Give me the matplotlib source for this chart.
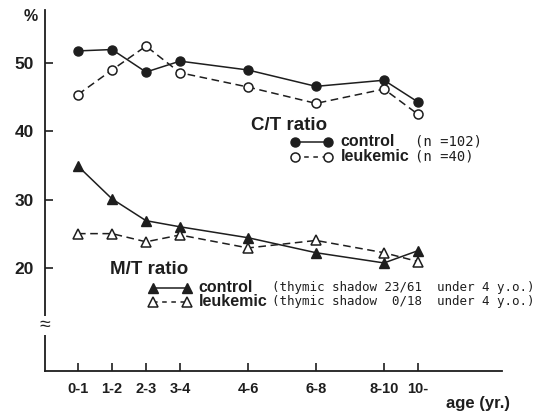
import matplotlib.pyplot as plt
import numpy as np

# age groups (x positions follow the original's uneven spacing)
ages = ['0-1', '1-2', '2-3', '3-4', '4-6', '6-8', '8-10', '10-']
xpos = [0, 1, 2, 3, 5, 7, 9, 10]

# C/T ratio (%)
ct_control = [51.8, 52.0, 48.7, 50.3, 49.0, 46.6, 47.5, 44.3]
ct_leukemic = [45.4, 49.0, 52.5, 48.6, 46.5, 44.1, 46.2, 42.5]

# M/T ratio (%)
mt_control = [34.9, 30.1, 26.9, 26.0, 24.4, 22.2, 20.7, 22.5]
mt_leukemic = [25.0, 25.0, 23.8, 24.8, 22.9, 24.0, 22.2, 20.9]

ink = '#1e1e1e'
plt.rcParams['font.family'] = ['Liberation Sans', 'DejaVu Sans']
mono = 'DejaVu Sans Mono'

fig = plt.figure(figsize=(5.45, 4.12), dpi=100)
ax = fig.add_axes([45/545, 41/412, 457/545, 361/412])

dash = (0, (5, 3))
ax.plot(xpos, ct_control, color=ink, lw=1.1, marker='o', ms=6.5, mfc=ink, mec=ink)
ax.plot(xpos, ct_leukemic, color=ink, lw=1.1, ls=dash, marker='o', ms=6.5, mfc='white', mec=ink, mew=1.1)
ax.plot(xpos, mt_control, color=ink, lw=1.1, marker='^', ms=7, mfc=ink, mec=ink)
ax.plot(xpos, mt_leukemic, color=ink, lw=1.1, ls=dash, marker='^', ms=7, mfc='white', mec=ink, mew=1.1)

ax.set_xlim(-0.97, 12.47)
ax.set_ylim(4.85, 57.8)
ax.set_xticks(xpos)
ax.set_xticklabels(ages)
ax.set_yticks([20, 30, 40, 50])
ax.tick_params(direction='in', length=6, width=1.2, color=ink, labelcolor=ink, pad=8)
for lab in ax.get_yticklabels():
    lab.set_fontsize(12.5)
    lab.set_fontweight('bold')
for lab in ax.get_xticklabels():
    lab.set_fontsize(10.5)
    lab.set_fontweight('bold')
for s in ['top', 'right']:
    ax.spines[s].set_visible(False)
for s in ['left', 'bottom']:
    ax.spines[s].set_linewidth(1.3)
    ax.spines[s].set_color(ink)

# axis break mark
ax.text(-0.97, 11.5, '≈', ha='center', va='center', fontsize=14, color=ink,
        bbox=dict(fc='white', ec='none', pad=0.5), clip_on=False)

# unit / axis labels
ax.text(-1.4, 56.9, '%', ha='center', va='center', fontsize=11.5, fontweight='bold', color=ink, clip_on=False)
ax.text(12.7, -0.6, 'age (yr.)', ha='right', va='baseline', fontsize=12, fontweight='bold', color=ink, clip_on=False)

# C/T legend
ax.text(5.1, 40.9, 'C/T ratio', ha='left', va='center', fontsize=13.5, fontweight='bold', color=ink)
ax.plot([6.38, 7.35], [38.5, 38.5], color=ink, lw=1.1, marker='o', ms=6.5, mfc=ink, mec=ink)
ax.plot([6.38, 7.35], [36.3, 36.3], color=ink, lw=1.1, ls=(0, (3, 3)), marker='o', ms=6.5, mfc='white', mec=ink, mew=1.1)
ax.text(7.72, 38.5, 'control', ha='left', va='center', fontsize=11.5, fontweight='bold', color=ink)
ax.text(7.72, 36.3, 'leukemic', ha='left', va='center', fontsize=11.5, fontweight='bold', color=ink)
ax.text(9.9, 38.5, '(n =102)', ha='left', va='center', fontsize=10, family=mono, color=ink)
ax.text(9.9, 36.3, '(n =40)', ha='left', va='center', fontsize=10, family=mono, color=ink)

# M/T legend
ax.text(0.94, 19.7, 'M/T ratio', ha='left', va='center', fontsize=13.5, fontweight='bold', color=ink)
ax.plot([2.2, 3.2], [17.06, 17.06], color=ink, lw=1.1, marker='^', ms=7, mfc=ink, mec=ink)
ax.plot([2.2, 3.2], [15.0, 15.0], color=ink, lw=1.1, ls=(0, (3, 3)), marker='^', ms=7, mfc='white', mec=ink, mew=1.1)
ax.text(3.55, 17.06, 'control', ha='left', va='center', fontsize=11.5, fontweight='bold', color=ink)
ax.text(3.55, 15.0, 'leukemic', ha='left', va='center', fontsize=11.5, fontweight='bold', color=ink)
ax.text(5.72, 17.06, '(thymic shadow 23/61  under 4 y.o.)', ha='left', va='center', fontsize=9, family=mono, color=ink)
ax.text(5.72, 15.0, '(thymic shadow  0/18  under 4 y.o.)', ha='left', va='center', fontsize=9, family=mono, color=ink)

fig.savefig('out.png', dpi=100)
